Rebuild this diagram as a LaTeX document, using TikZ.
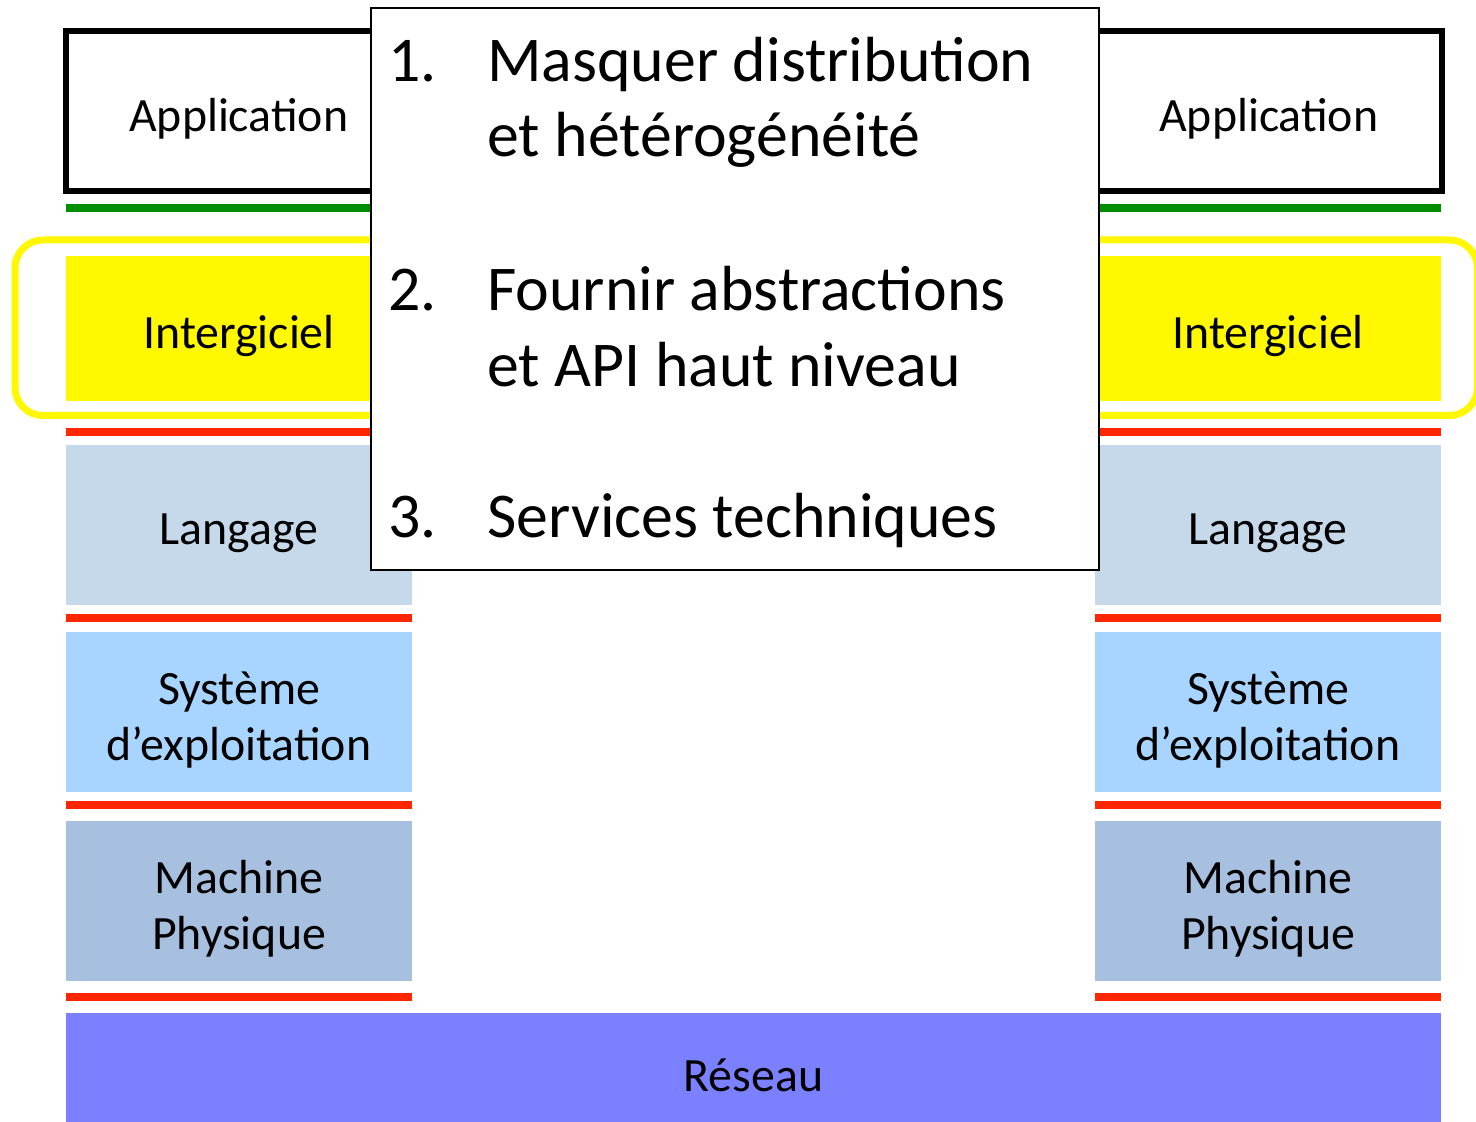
\documentclass[tikz,border=0pt]{standalone}
\usepackage{fontspec}
\setmainfont{Carlito}
\usepackage{tikz}
\usetikzlibrary{positioning}
\definecolor{sepgreen}{RGB}{0,143,0}
\definecolor{sepred}{RGB}{255,38,0}
\definecolor{midyellow}{RGB}{255,248,0}
\definecolor{langblue}{RGB}{198,217,235}
\definecolor{sysblue}{RGB}{168,213,255}
\definecolor{machblue}{RGB}{167,192,223}
\definecolor{netblue}{RGB}{123,128,255}

\begin{document}
\begin{tikzpicture}[x=0.5pt, y=-0.5pt,
    layer/.style={rectangle, inner sep=0pt, minimum width=173pt, minimum height=80pt},
    lbl/.style={inner sep=0pt, align=center, font=\fontsize{23.9}{28}\selectfont},
    item/.style={inner sep=0pt, anchor=base west, font=\fontsize{31.9}{37.5}\selectfont},
    sep/.style={line width=4pt}]
    \useasboundingbox (0,0) rectangle (1476,1122);

    % cadre jaune autour de l'intergiciel
    \draw[line width=3.5pt, midyellow, rounded corners=14pt] (15,240) rectangle (1477.5,415.5);

    % piles de gauche et de droite
    \node[layer, draw, line width=3pt, minimum width=173.25pt, minimum height=79.75pt] (appL) at (238.75,111.25) {};
    \node[layer, draw, line width=3pt, minimum width=173.25pt, minimum height=79.75pt] (appR) at (1268.75,111.25) {};
    \node[layer, fill=midyellow, minimum height=72.5pt] (midL) at (239,328.5) {};
    \node[layer, fill=midyellow, minimum height=72.5pt] (midR) at (1268,328.5) {};
    \node[layer, fill=langblue] (langL) at (239,525) {};
    \node[layer, fill=langblue] (langR) at (1268,525) {};
    \node[layer, fill=sysblue] (sysL) at (239,712) {};
    \node[layer, fill=sysblue] (sysR) at (1268,712) {};
    \node[layer, fill=machblue] (machL) at (239,901) {};
    \node[layer, fill=machblue] (machR) at (1268,901) {};
    \node[layer, fill=netblue, minimum width=687.5pt, minimum height=54.5pt] (net) at (753.5,1067.5) {};

    \node[lbl] (appLtxt) at ([yshift=-4pt]appL.center) {Application};
    \node[lbl] (appRtxt) at ([yshift=-4pt]appR.center) {Application};
    \node[lbl] (midLtxt) at ([yshift=-4pt]midL.center) {Intergiciel};
    \node[lbl] (midRtxt) at ([yshift=-4pt]midR.center) {Intergiciel};
    \node[lbl] (langLtxt) at ([yshift=-4pt]langL.center) {Langage};
    \node[lbl] (langRtxt) at ([yshift=-4pt]langR.center) {Langage};
    \node[lbl] (sysLtxt) at ([yshift=-4pt]sysL.center) {Système\\d’exploitation};
    \node[lbl] (sysRtxt) at ([yshift=-4pt]sysR.center) {Système\\d’exploitation};
    \node[lbl] (machLtxt) at ([yshift=-4pt]machL.center) {Machine\\Physique};
    \node[lbl] (machRtxt) at ([yshift=-4pt]machR.center) {Machine\\Physique};
    \node[lbl] (nettxt) at ([yshift=-4pt]net.center) {Réseau};

    % separateurs
    \draw[sep, sepgreen] (66,208) -- (1441,208);
    \draw[sep, sepred] (66,432) -- (412,432);
    \draw[sep, sepred] (1095,432) -- (1441,432);
    \draw[sep, sepred] (66,618) -- (412,618);
    \draw[sep, sepred] (1095,618) -- (1441,618);
    \draw[sep, sepred] (66,805) -- (412,805);
    \draw[sep, sepred] (1095,805) -- (1441,805);
    \draw[sep, sepred] (66,997) -- (412,997);
    \draw[sep, sepred] (1095,997) -- (1441,997);

    % encadre des objectifs
    \node[draw, line width=1pt, fill=white, inner sep=0pt, minimum width=364pt, minimum height=281pt] (goals) at (735,289) {};
    \node[item] (g1num) at (388,82) {1.};
    \node[item] (g1a) at (487,82) {Masquer distribution};
    \node[item] (g1b) at (487,157) {et hétérogénéité};
    \node[item] (g2num) at (388,311) {2.};
    \node[item] (g2a) at (487,311) {Fournir abstractions};
    \node[item] (g2b) at (487,387) {et API haut niveau};
    \node[item] (g3num) at (388,537) {3.};
    \node[item] (g3a) at (487,537) {Services techniques};
\end{tikzpicture}
\end{document}
